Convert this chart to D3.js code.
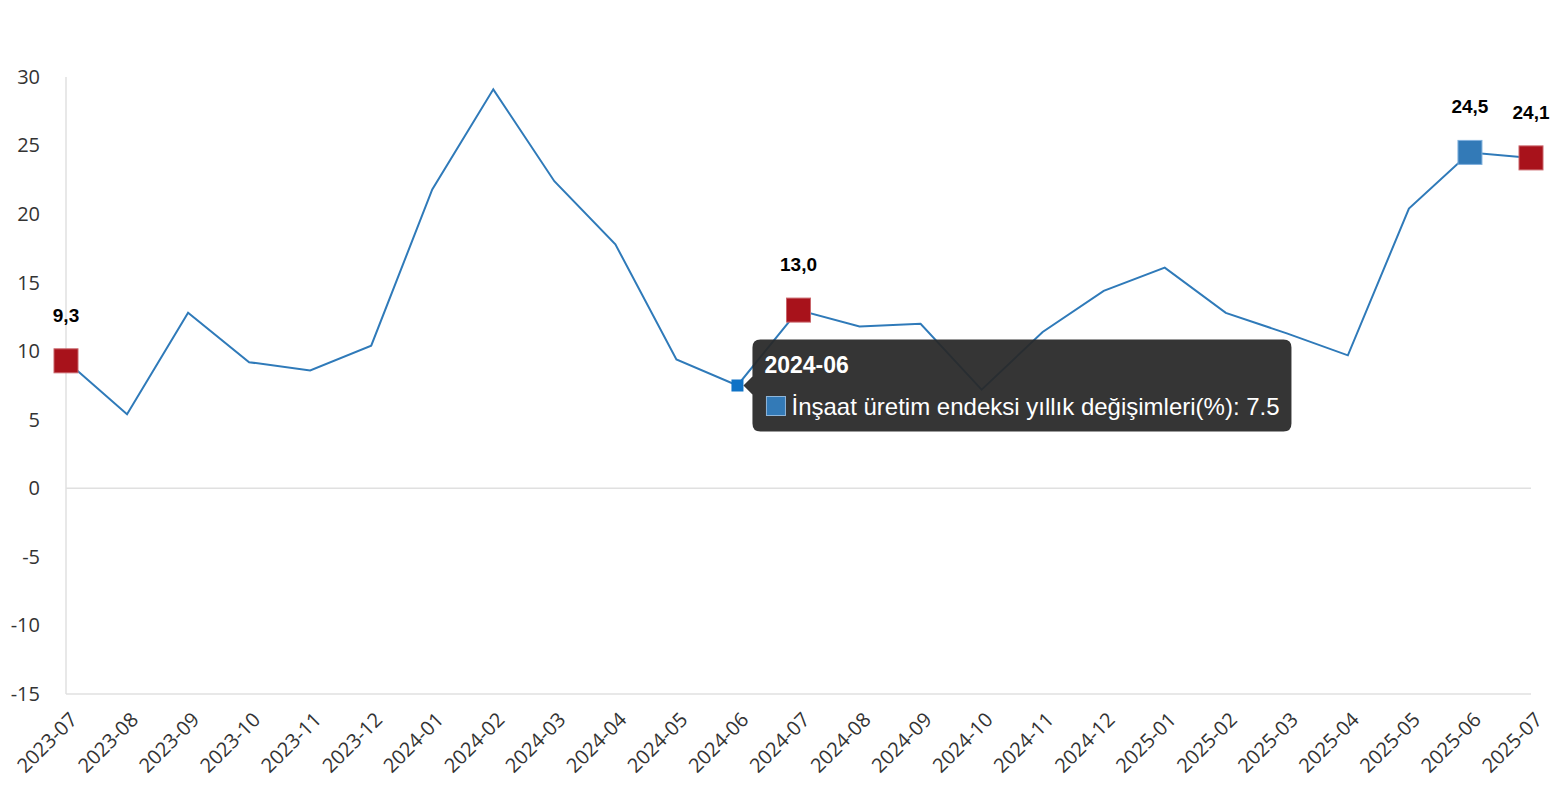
<!DOCTYPE html>
<html>
<head>
<meta charset="utf-8">
<script src="https://cdn.jsdelivr.net/npm/d3@7"></script>
<style>
  body { margin: 0; background: #fff; }
  svg { display: block; }
</style>
</head>
<body>
<svg id="chart" width="1556" height="800"></svg>
<script>
// data
var months = ["2023-07","2023-08","2023-09","2023-10","2023-11","2023-12",
              "2024-01","2024-02","2024-03","2024-04","2024-05","2024-06",
              "2024-07","2024-08","2024-09","2024-10","2024-11","2024-12",
              "2025-01","2025-02","2025-03","2025-04","2025-05","2025-06","2025-07"];
var values = [9.3, 5.4, 12.8, 9.2, 8.6, 10.4,
              21.8, 29.1, 22.4, 17.8, 9.4, 7.5,
              13.0, 11.8, 12.0, 7.2, 11.4, 14.4,
              16.1, 12.8, 11.3, 9.7, 20.4, 24.5, 24.1];
var yTicks = [30, 25, 20, 15, 10, 5, 0, -5, -10, -15];
var redMarks = ["2023-07", "2024-07", "2025-07"];
var blueMarks = ["2025-06"];
var hovered = "2024-06";
var seriesName = "İnşaat üretim endeksi yıllık değişimleri(%)";

function GenerateChart()
{
    var svg = d3.select("#chart");

    var margin = {left: 66, right: 25, top: 77, bottom: 106};
    var width = +svg.attr("width"),
        height = +svg.attr("height");

    var x = d3.scalePoint()
        .domain(months)
        .range([margin.left, width - margin.right]);

    var y = d3.scaleLinear()
        .domain([-15, 30])
        .range([height - margin.bottom, margin.top]);

    var data = months.map(function(m, i) { return {month: m, value: values[i]}; });

    // axis lines
    svg.append("line")
        .attr("x1", x.range()[0]).attr("x2", x.range()[0])
        .attr("y1", y(30)).attr("y2", y(-15))
        .attr("stroke", "#e0e0e0").attr("stroke-width", 1.5);
    svg.append("line")
        .attr("x1", x.range()[0]).attr("x2", x.range()[1])
        .attr("y1", y(-15)).attr("y2", y(-15))
        .attr("stroke", "#e0e0e0").attr("stroke-width", 1.5);
    svg.append("line")
        .attr("x1", x.range()[0]).attr("x2", x.range()[1])
        .attr("y1", y(0)).attr("y2", y(0))
        .attr("stroke", "#e0e0e0").attr("stroke-width", 1.5);

    // y axis labels (plain hyphen for negatives, as in the original)
    var yAxis = d3.axisLeft(y).tickValues(yTicks).tickSize(0).tickPadding(26)
        .tickFormat(function(d) { return String(d); });
    var yg = svg.append("g")
        .attr("transform", "translate(" + margin.left + ",0)")
        .call(yAxis);
    yg.select(".domain").remove();
    yg.selectAll("text")
        .attr("fill", "#333")
        .style("font-family", "'Open Sans', sans-serif")
        .style("font-size", "20px");

    // x axis labels
    var xAxis = d3.axisBottom(x).tickSize(0).tickPadding(0);
    var xg = svg.append("g")
        .attr("transform", "translate(0," + y(-15) + ")")
        .call(xAxis);
    xg.select(".domain").remove();
    xg.selectAll("text")
        .attr("fill", "#333")
        .style("font-family", "'Open Sans', sans-serif")
        .style("font-size", "20px")
        .attr("text-anchor", "end")
        .attr("dy", null)
        .attr("y", 0)
        .attr("transform", "translate(12,27) rotate(-45)");

    // line
    var line = d3.line()
        .x(function(d) { return x(d.month); })
        .y(function(d) { return y(d.value); });

    svg.append("path")
        .datum(data)
        .attr("fill", "none")
        .attr("stroke", "#2f7ab9")
        .attr("stroke-width", 2)
        .attr("d", line);

    // highlighted markers
    var marked = data.filter(function(d) {
        return redMarks.indexOf(d.month) >= 0 || blueMarks.indexOf(d.month) >= 0;
    });

    svg.selectAll(".mark")
        .data(marked)
        .enter().append("rect")
        .attr("class", "mark")
        .attr("x", function(d) { return x(d.month) - 12; })
        .attr("y", function(d) { return y(d.value) - 12; })
        .attr("width", 24)
        .attr("height", 24)
        .attr("fill", function(d) { return redMarks.indexOf(d.month) >= 0 ? "#a8121b" : "#337ab7"; })
        .attr("stroke", function(d) { return redMarks.indexOf(d.month) >= 0 ? "#c9656b" : "#7fb0dc"; })
        .attr("stroke-width", 1);

    svg.selectAll(".vlabel")
        .data(marked)
        .enter().append("text")
        .attr("class", "vlabel")
        .attr("x", function(d) { return x(d.month); })
        .attr("y", function(d) { return y(d.value) - 39; })
        .attr("text-anchor", "middle")
        .style("font-family", "'Liberation Sans', Arial, sans-serif")
        .style("font-weight", "bold")
        .style("font-size", "19px")
        .attr("fill", "#000")
        .text(function(d) { return d.value.toFixed(1).replace(".", ","); });

    // hovered point + tooltip
    var hv = data.filter(function(d) { return d.month == hovered; })[0];
    var hx = x(hv.month), hy = y(hv.value);

    svg.append("rect")
        .attr("x", hx - 6).attr("y", hy - 6)
        .attr("width", 12).attr("height", 12)
        .attr("fill", "#0e72c6");

    var tip = svg.append("g")
        .attr("transform", "translate(" + (hx + 15) + "," + (hy - 46) + ")");

    var tw = 539, th = 92;
    tip.append("path")
        .attr("d", "M0,8 Q0,0 8,0 L" + (tw - 8) + ",0 Q" + tw + ",0 " + tw + ",8 L" + tw + "," + (th - 8) +
              " Q" + tw + "," + th + " " + (tw - 8) + "," + th + " L8," + th + " Q0," + th + " 0," + (th - 8) +
              " L0," + (th / 2 + 9) + " L-9," + (th / 2) + " L0," + (th / 2 - 9) + " Z")
        .attr("fill", "rgba(40,40,40,0.94)");

    tip.append("text")
        .attr("x", 12).attr("y", 33)
        .attr("fill", "#fff")
        .style("font-family", "'Liberation Sans', Arial, sans-serif")
        .style("font-weight", "bold")
        .style("font-size", "23px")
        .text(hv.month);

    tip.append("rect")
        .attr("x", 14).attr("y", 57)
        .attr("width", 19).attr("height", 19)
        .attr("fill", "#337ab7")
        .attr("stroke", "#8fb6da").attr("stroke-width", 1);

    tip.append("text")
        .attr("x", 39).attr("y", 75)
        .attr("fill", "#fff")
        .style("font-family", "'Liberation Sans', Arial, sans-serif")
        .style("font-size", "24px")
        .text(seriesName + ": " + hv.value);
}

GenerateChart();
</script>
</body>
</html>
